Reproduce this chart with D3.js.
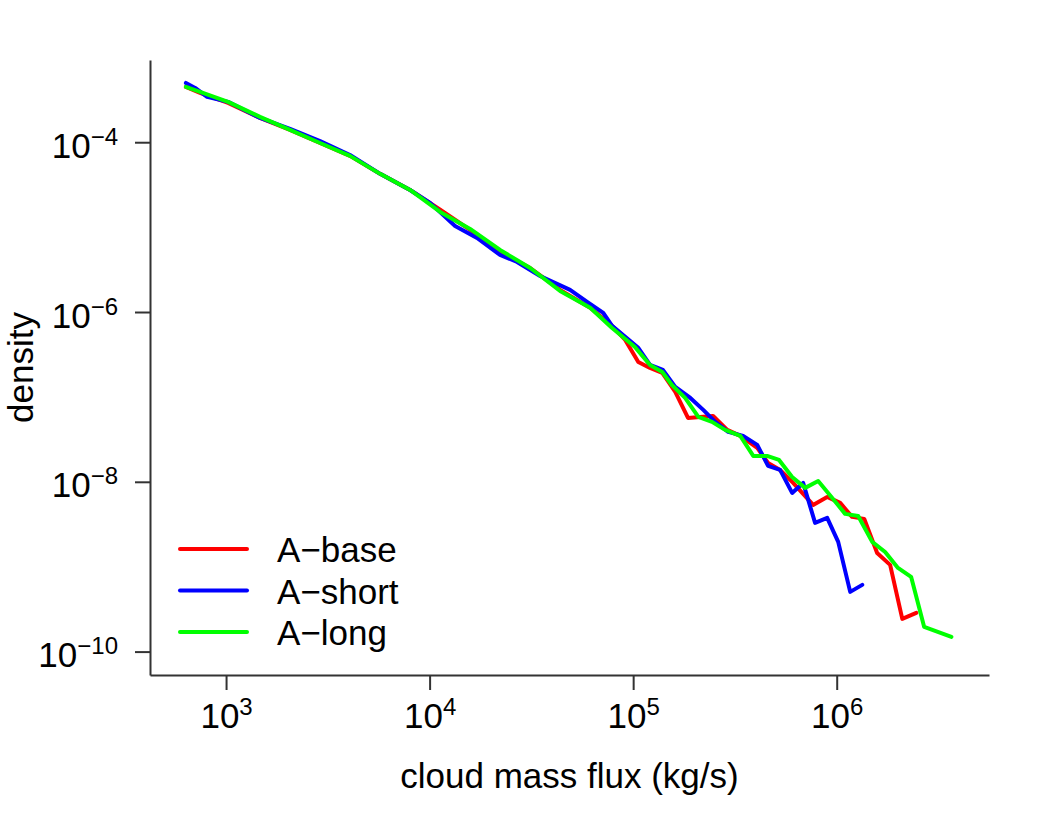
<!DOCTYPE html>
<html>
<head>
<meta charset="utf-8">
<script src="https://cdn.jsdelivr.net/npm/d3@7"></script>
<style>
  body { margin: 0; background: #fff; }
  svg { display: block; font-family: "Liberation Sans", Arial, Helvetica, sans-serif; }
</style>
</head>
<body>
<svg id="chart" width="1050" height="825"></svg>
<script>
// axis limits (like xlim / ylim)
const xLimits = [423, 5.6e6]
const yLimits = [9.3e-4, 5.3e-11]
const xTicks = [1e3, 1e4, 1e5, 1e6]
const yTicks = [1e-4, 1e-6, 1e-8, 1e-10]

const seriesNames = ['A\u2212base', 'A\u2212short', 'A\u2212long']
const seriesColors = ['#ff0000', '#0000ff', '#00ff00']

const baseFlux = [635, 745, 1023, 1468, 2062, 2897, 4064, 5713, 8017, 11270, 15810, 22180,
  31190, 43750, 61520, 78800, 91400, 1.06e5, 1.21e5, 1.39e5, 1.61e5, 1.86e5, 2.13e5, 2.47e5,
  2.90e5, 3.36e5, 4.07e5, 4.60e5, 5.27e5, 6.11e5, 7.66e5, 8.98e5, 1.04e6, 1.19e6, 1.366e6,
  1.58e6, 1.83e6, 2.10e6, 2.46e6]
const baseDensity = [4.48e-4, 3.81e-4, 2.90e-4, 1.93e-4, 1.40e-4, 9.8e-5, 6.9e-5, 4.24e-5,
  2.74e-5, 1.60e-5, 9.27e-6, 5.09e-6, 3.30e-6, 1.82e-6, 1.12e-6, 6.86e-7, 4.69e-7, 2.58e-7,
  2.19e-7, 1.92e-7, 1.15e-7, 5.66e-8, 5.81e-8, 5.97e-8, 4.09e-8, 3.47e-8, 2.51e-8, 1.67e-8,
  1.38e-8, 9.70e-9, 5.34e-9, 6.64e-9, 5.64e-9, 3.86e-9, 3.66e-9, 1.45e-9, 1.05e-9, 2.43e-10,
  2.86e-10]

const shortFlux = [635, 705, 807, 1023, 1468, 2062, 2897, 4064, 5713, 8017, 10050, 13340,
  17100, 22180, 26900, 34900, 49000, 59400, 71300, 78800, 1.06e5, 1.21e5, 1.40e5, 1.61e5,
  1.91e5, 2.21e5, 2.53e5, 2.93e5, 3.47e5, 4.07e5, 4.60e5, 5.27e5, 6.04e5, 6.84e5, 7.83e5,
  8.98e5, 1.017e6, 1.165e6, 1.335e6]
const shortDensity = [4.99e-4, 4.36e-4, 3.42e-4, 2.99e-4, 1.93e-4, 1.44e-4, 1.03e-4, 7.08e-5,
  4.24e-5, 2.74e-5, 1.93e-5, 1.03e-5, 7.46e-6, 4.70e-6, 3.89e-6, 2.66e-6, 1.82e-6, 1.32e-6,
  9.75e-7, 6.86e-7, 3.78e-7, 2.38e-7, 2.08e-7, 1.31e-7, 9.73e-8, 7.03e-8, 5.08e-8, 3.87e-8,
  3.47e-8, 2.72e-8, 1.54e-8, 1.38e-8, 7.40e-9, 9.70e-9, 3.28e-9, 3.76e-9, 1.96e-9, 5.05e-10,
  6.11e-10]

const longFlux = [635, 745, 1023, 1468, 2062, 2897, 4064, 5713, 8017, 11270, 15810, 22180,
  31190, 43750, 61520, 78800, 1.02e5, 1.21e5, 1.39e5, 1.55e5, 1.80e5, 2.09e5, 2.44e5, 2.83e5,
  3.36e5, 3.89e5, 4.55e5, 5.21e5, 6.04e5, 7.00e5, 8.11e5, 9.51e5, 1.10e6, 1.275e6, 1.494e6,
  1.73e6, 2.00e6, 2.32e6, 2.69e6, 3.66e6]
const longDensity = [4.48e-4, 3.91e-4, 2.99e-4, 1.99e-4, 1.40e-4, 9.8e-5, 6.9e-5, 4.24e-5,
  2.74e-5, 1.51e-5, 9.53e-6, 5.38e-6, 3.30e-6, 1.77e-6, 1.12e-6, 6.49e-7, 3.88e-7, 2.38e-7,
  1.97e-7, 1.38e-7, 9.73e-8, 5.81e-8, 5.08e-8, 4.09e-8, 3.47e-8, 2.02e-8, 2.02e-8, 1.81e-8,
  1.14e-8, 8.48e-9, 1.02e-8, 6.46e-9, 4.19e-9, 3.96e-9, 1.96e-9, 1.49e-9, 9.68e-10, 7.59e-10,
  1.95e-10, 1.49e-10]

const series = [
  {name: seriesNames[0], color: seriesColors[0], flux: baseFlux, density: baseDensity},
  {name: seriesNames[1], color: seriesColors[1], flux: shortFlux, density: shortDensity},
  {name: seriesNames[2], color: seriesColors[2], flux: longFlux, density: longDensity},
]

const svg = d3.select('#chart')
const plot = {left: 150, right: 989, top: 60, bottom: 675}
const axisColor = '#333'
const fontSize = 35
const supSize = 24

const x = d3.scaleLog().domain(xLimits).range([plot.left, plot.right])
const y = d3.scaleLog().domain(yLimits).range([plot.top, plot.bottom])

// superscript labels 10^n
function powerLabel(sel, d) {
  const exp = Math.round(Math.log10(d))
  sel.text(null)
  sel.append('tspan').text('10')
  sel.append('tspan')
    .attr('dy', -13)
    .attr('font-size', supSize)
    .text(exp < 0 ? '\u2212' + (-exp) : String(exp))
}

const gx = svg.append('g')
  .attr('transform', `translate(0, ${plot.bottom})`)
  .call(d3.axisBottom(x).tickValues(xTicks).tickSize(15).tickSizeOuter(0))
gx.attr('font-family', null).attr('font-size', fontSize)
gx.selectAll('path, line').attr('stroke', axisColor).attr('stroke-width', 2)
gx.selectAll('.tick text')
  .attr('y', 53).attr('dy', null).attr('fill', '#000')
  .each(function (d) { powerLabel(d3.select(this), d) })

const gy = svg.append('g')
  .attr('transform', `translate(${plot.left}, 0)`)
  .call(d3.axisLeft(y).tickValues(yTicks).tickSize(15).tickSizeOuter(0))
gy.attr('font-family', null).attr('font-size', fontSize)
gy.selectAll('path, line').attr('stroke', axisColor).attr('stroke-width', 2)
gy.selectAll('.tick text')
  .attr('x', -32).attr('dy', null).attr('y', 15).attr('fill', '#000')
  .each(function (d) { powerLabel(d3.select(this), d) })

// axis titles
svg.append('text')
  .attr('x', (plot.left + plot.right) / 2)
  .attr('y', 788)
  .attr('text-anchor', 'middle')
  .attr('font-size', fontSize)
  .text('cloud mass flux (kg/s)')

svg.append('text')
  .attr('transform', `translate(33, ${(plot.top + plot.bottom) / 2}) rotate(-90)`)
  .attr('text-anchor', 'middle')
  .attr('font-size', fontSize)
  .text('density')

// lines
const line = d3.line()
  .x((d) => x(d[0]))
  .y((d) => y(d[1]))

svg.append('g')
  .selectAll('path')
  .data(series)
  .join('path')
  .attr('d', (s) => line(d3.zip(s.flux, s.density)))
  .attr('fill', 'none')
  .attr('stroke', (s) => s.color)
  .attr('stroke-width', 4)
  .attr('stroke-linejoin', 'round')
  .attr('stroke-linecap', 'round')

// legend
const legend = svg.append('g').attr('transform', 'translate(180, 549)')
const items = legend.selectAll('g')
  .data(series)
  .join('g')
  .attr('transform', (s, i) => `translate(0, ${i * 41.5})`)
items.append('line')
  .attr('x1', 0).attr('x2', 67)
  .attr('stroke', (s) => s.color)
  .attr('stroke-width', 4)
  .attr('stroke-linecap', 'round')
items.append('text')
  .attr('x', 97)
  .attr('y', 13)
  .attr('font-size', fontSize)
  .text((s) => s.name)
</script>
</body>
</html>
